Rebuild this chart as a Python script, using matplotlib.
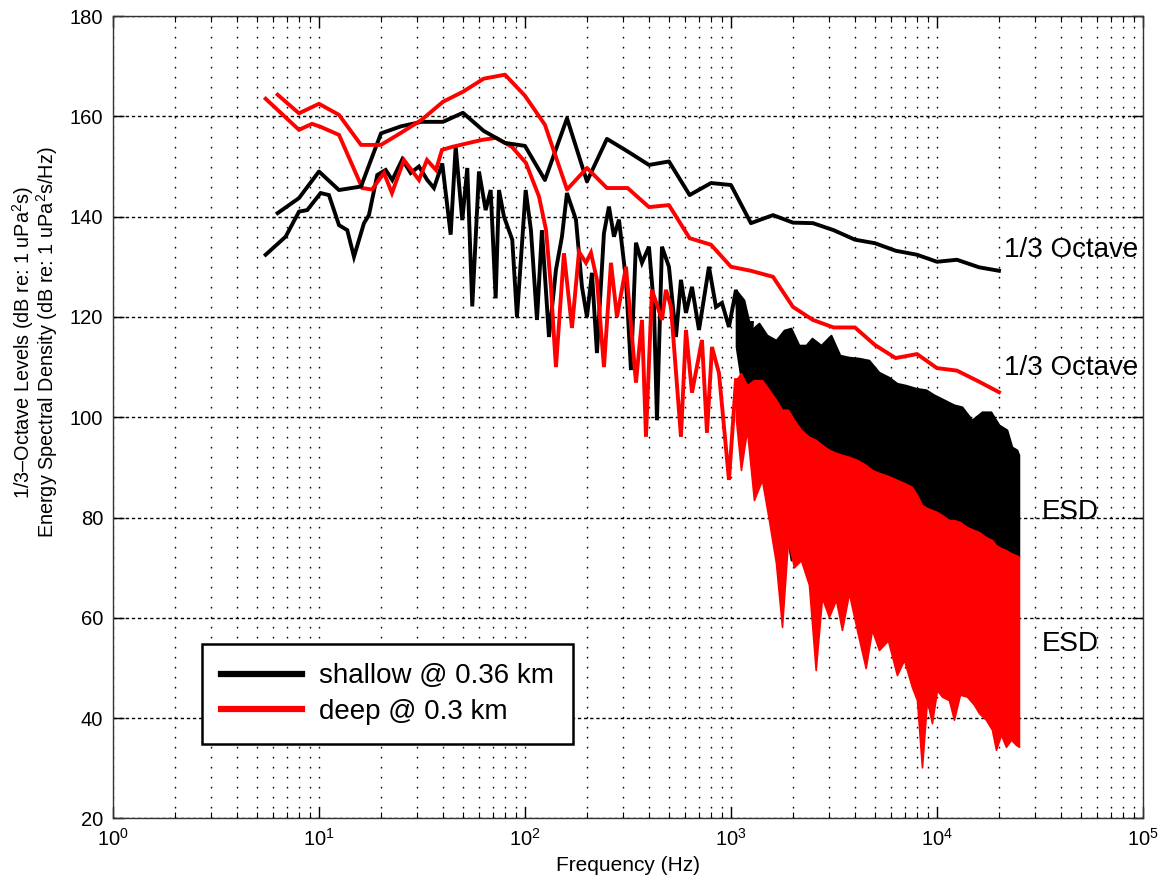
import matplotlib
matplotlib.use("Agg")
import matplotlib.pyplot as plt
from matplotlib.lines import Line2D
from matplotlib.ticker import LogLocator, NullFormatter

plt.rcParams['font.family'] = ['Liberation Sans', 'DejaVu Sans']
plt.rcParams['mathtext.fontset'] = 'custom'
plt.rcParams['mathtext.rm'] = 'Liberation Sans'
plt.rcParams['mathtext.it'] = 'Liberation Sans:italic'

# ---------------- data ----------------
# 1/3-octave band centre frequencies (Hz)
oct_f = [6.3, 8, 10, 12.5, 16, 20, 25, 31.5, 40, 50, 63, 80, 100, 125, 160, 200,
         250, 315, 400, 500, 630, 800, 1000, 1250, 1600, 2000, 2500, 3150, 4000,
         5000, 6300, 8000, 10000, 12500, 16000, 20000]
# shallow @ 0.36 km, 1/3-octave levels (dB)
oct_shallow = [140.7, 143.7, 149.0, 145.3, 146.0, 156.6, 158.0, 158.9, 158.9, 160.7,
               157.1, 154.7, 154.1, 147.3, 159.6, 147.0, 155.5, 153.0, 150.3, 151.0,
               144.3, 146.7, 146.3, 138.7, 140.3, 138.8, 138.7, 137.3, 135.4, 134.7,
               133.2, 132.4, 131.0, 131.4, 129.9, 129.2]
# deep @ 0.3 km, 1/3-octave levels (dB)
oct_deep = [164.3, 160.6, 162.5, 160.3, 154.3, 154.3, 156.7, 159.3, 162.9, 164.9,
            167.5, 168.3, 164.1, 158.3, 145.4, 149.7, 145.7, 145.7, 141.9, 142.3,
            135.7, 134.4, 130.0, 129.2, 128.0, 122.0, 119.4, 117.9, 117.9, 114.4,
            111.8, 112.6, 109.8, 109.3, 107.1, 105.0]

# shallow ESD, resolved part (Hz, dB)
esd_shallow_f = [5.51, 6.89, 8.0, 8.77, 10.19, 11.18, 12.51, 13.72, 14.79, 16.54,
                 17.48, 19.19, 21.08, 22.69, 25.37, 27.87, 30.58, 33.56, 36.16, 39.67,
                 43.59, 46.09, 49.62, 52.48, 55.49, 59.81, 64.45, 68.16, 72.08, 74.79,
                 79.09, 86.76, 91.46, 100.8, 106.9, 114.4, 120.9, 130.8, 141.4, 151.2,
                 159.9, 176.8, 189.1, 200.0, 211.4, 223.6, 241.8, 255.7, 270.4, 286.0,
                 309.3, 327.0, 345.8, 369.8, 399.9, 422.9, 437.3, 462.4, 500.0, 540.7,
                 571.8, 604.7, 646.8, 699.4, 782.0, 845.7, 904.3, 977.9, 1057.6, 1130.9,
                 1196, 1264]
esd_shallow = [132.4, 136.0, 141.0, 141.3, 144.7, 144.3, 138.3, 137.3, 132.0, 138.7,
               140.3, 148.3, 149.3, 147.3, 151.4, 148.7, 150.0, 147.3, 145.7, 150.6,
               136.4, 154.0, 139.3, 149.7, 122.1, 149.0, 141.3, 145.3, 123.7, 145.3,
               140.0, 135.4, 120.0, 145.3, 137.3, 119.4, 137.3, 116.0, 129.4, 136.0,
               144.7, 139.4, 126.0, 120.0, 128.8, 112.8, 136.7, 142.0, 136.0, 139.4,
               127.4, 109.4, 134.8, 130.8, 134.0, 122.0, 99.4, 134.0, 130.0, 116.0,
               127.4, 120.8, 126.0, 117.4, 130.0, 122.0, 122.8, 118.0, 125.4, 114.0,
               104.1, 118.8]
# shallow ESD, dense part: upper / lower envelope (Hz, dB)
band_shallow_f = [1058, 1157, 1251, 1368, 1496, 1654, 1809, 1956, 2139, 2313, 2473,
                  2735, 3059, 3382, 3739, 4182, 4677, 5230, 5848, 6394, 7071, 7909,
                  8844, 9670, 10815, 12091, 13224, 14788, 16536, 18287, 20000, 21870,
                  23128, 24453, 25000]
band_shallow_hi = [125.4, 123.4, 117.4, 118.8, 116.4, 115.4, 117.4, 117.8, 114.4, 114.4,
                   115.8, 114.4, 116.4, 112.4, 112.0, 111.8, 111.4, 109.0, 108.0, 106.8,
                   106.4, 105.8, 105.5, 104.5, 103.5, 102.5, 102.1, 99.5, 101.1, 101.1,
                   98.5, 97.5, 94.1, 93.5, 92.5]
band_shallow_lo = [114.0, 103.5, 107.4, 99.5, 95.5, 89.5, 79.5, 71.5, 72.5, 70.6,
                   75.5, 79.5, 83.5, 87.5, 89.5, 87.5, 85.5, 83.5, 83.5, 82.5,
                   81.5, 79.5, 78.5, 78.5, 77.5, 76.5, 75.5, 74.5, 73.5, 72.9,
                   72.5, 72.3, 72.1, 72.1, 72.1]

# deep ESD, resolved part (Hz, dB)
esd_deep_f = [5.51, 8.0, 9.25, 10.19, 12.51, 16.23, 18.08, 20.68, 22.61, 25.86,
              30.58, 33.44, 36.98, 39.55, 44.22, 61.83, 72.31, 86.48, 101.1, 117.0,
              126.5, 133.7, 138.3, 141.4, 154.6, 169.1, 182.9, 197.8, 209.1, 223.6,
              241.8, 261.5, 279.7, 309.3, 345.8, 369.8, 386.7, 413.5, 462.4, 483.6,
              511.4, 571.8, 604.7, 646.8, 723.3, 764.8, 808.8, 874.6, 977.9, 1057.6]
esd_deep = [163.5, 157.3, 158.5, 157.9, 156.3, 145.7, 145.4, 148.7, 144.7, 151.3,
            147.3, 151.3, 149.3, 153.3, 153.9, 155.3, 155.7, 153.9, 150.7, 144.0,
            137.4, 126.0, 116.0, 110.0, 132.7, 117.8, 133.0, 130.8, 132.8, 127.4,
            110.0, 130.8, 120.0, 130.0, 106.9, 119.4, 96.1, 125.4, 119.4, 125.4,
            122.0, 96.1, 117.4, 104.9, 115.4, 96.9, 114.0, 108.8, 87.5, 107.4]
# deep ESD, dense part: upper / lower envelope (Hz, dB)
band_deep_f = [1058, 1118, 1196, 1293, 1414, 1529, 1654, 1769, 1891, 2023, 2187, 2391,
               2578, 2765, 2990, 3234, 3458, 3739, 4089, 4507, 4836, 5230, 5783, 6394,
               6917, 7561, 7997, 8456, 8943, 9456, 10000, 10576, 11437, 12091, 12933,
               13984, 15121, 15991, 17290, 18493, 19338, 20452, 21627, 22873, 24183,
               25000]
band_deep_hi = [107.4, 108.8, 106.4, 107.4, 107.4, 105.5, 103.5, 101.5, 101.5, 99.5,
                97.5, 96.1, 95.5, 94.5, 93.5, 92.9, 92.5, 92.1, 91.5, 90.5, 89.5, 88.9,
                88.3, 87.5, 86.9, 86.1, 84.5, 82.5, 81.9, 81.5, 81.1, 80.5, 79.5, 79.5,
                79.1, 78.1, 77.5, 77.1, 76.1, 75.5, 74.5, 73.9, 73.5, 72.9, 72.5, 72.2]
band_deep_lo = [99.5, 89.5, 97.5, 83.5, 87.5, 79.5, 70.9, 58.2, 75.5, 70.1, 71.5, 66.6,
                49.6, 64.0, 60.2, 63.6, 57.6, 64.9, 57.6, 50.0, 57.6, 53.6, 55.5, 48.6,
                51.6, 46.2, 43.6, 30.2, 43.6, 39.0, 45.6, 44.3, 43.6, 39.7, 44.7, 44.3,
                42.7, 41.0, 39.7, 37.7, 33.7, 36.7, 34.3, 35.7, 34.7, 34.3]

legend_labels = ['shallow @ 0.36 km', 'deep @ 0.3 km']
x_ticks = [1, 10, 100, 1000, 10000, 100000]
y_ticks = [20, 40, 60, 80, 100, 120, 140, 160, 180]

# ---------------- figure ----------------
fig = plt.figure(figsize=(11.67, 8.84), dpi=100)
ax = fig.add_axes([0.0968, 0.0741, 0.8826, 0.9078])
ax.set_xscale('log')
ax.set_xlim(1, 1e5)
ax.set_ylim(20, 180)

lw = 2.8
ax.plot(esd_shallow_f, esd_shallow, color='black', lw=lw, solid_joinstyle='miter', zorder=3)
ax.fill_between(band_shallow_f, band_shallow_lo, band_shallow_hi, color='black',
                lw=1.2, edgecolor='black', zorder=3)
ax.plot(esd_deep_f, esd_deep, color='red', lw=lw, solid_joinstyle='miter', zorder=4)
ax.fill_between(band_deep_f, band_deep_lo, band_deep_hi, color='red',
                lw=1.2, edgecolor='red', zorder=4)
ax.plot(oct_f, oct_shallow, color='black', lw=lw, zorder=5)
ax.plot(oct_f, oct_deep, color='red', lw=lw, zorder=6)

# axes styling
ax.set_xticks(x_ticks)
ax.xaxis.set_minor_locator(LogLocator(base=10, subs=range(2, 10), numticks=20))
ax.xaxis.set_minor_formatter(NullFormatter())
ax.set_yticks(y_ticks)
ax.tick_params(axis='both', which='major', direction='in', length=8, width=1,
               top=True, right=True, labelsize=14.5, pad=7)
ax.tick_params(axis='x', which='minor', direction='in', length=4, width=0.8,
               top=True, bottom=True)
ax.xaxis.grid(True, which='both', color='black', lw=1.0, linestyle=(0, (1.2, 6.0)))
ax.yaxis.grid(True, which='major', color='black', lw=1.0, linestyle=(0, (2.4, 2.0)))
ax.set_axisbelow(True)
for s in ax.spines.values():
    s.set_linewidth(1.0)
    s.set_color('#333333')

ax.set_xlabel('Frequency (Hz)', fontsize=15, labelpad=4)
fig.text(0.0300, 0.613,
         '1/3\u2013Octave Levels (dB re: 1 uPa$^2$s)\n'
         'Energy Spectral Density (dB re: 1 uPa$^2$s/Hz)',
         rotation=90, ha='center', va='center', multialignment='center',
         fontsize=14.3, linespacing=0.95)

# curve annotations
ax.text(21100, 133.4, '1/3 Octave', fontsize=20, ha='left', va='center')
ax.text(21100, 109.8, '1/3 Octave', fontsize=20, ha='left', va='center')
ax.text(32400, 81.2, 'ESD', fontsize=20, ha='left', va='center')
ax.text(32400, 54.8, 'ESD', fontsize=20, ha='left', va='center')

handles = [Line2D([], [], color='black', lw=4.5), Line2D([], [], color='red', lw=4.5)]
leg = ax.legend(handles, legend_labels, loc='upper left', bbox_to_anchor=(0.0864, 0.2174),
                borderaxespad=0, fontsize=20, frameon=True, fancybox=False,
                handlelength=2.9, handletextpad=0.6, borderpad=0.7, labelspacing=0.33)
leg.get_frame().set_edgecolor('black')
leg.get_frame().set_linewidth(1.8)
leg.get_frame().set_alpha(1)
leg.set_zorder(10)

fig.savefig('out.png', dpi=100)
